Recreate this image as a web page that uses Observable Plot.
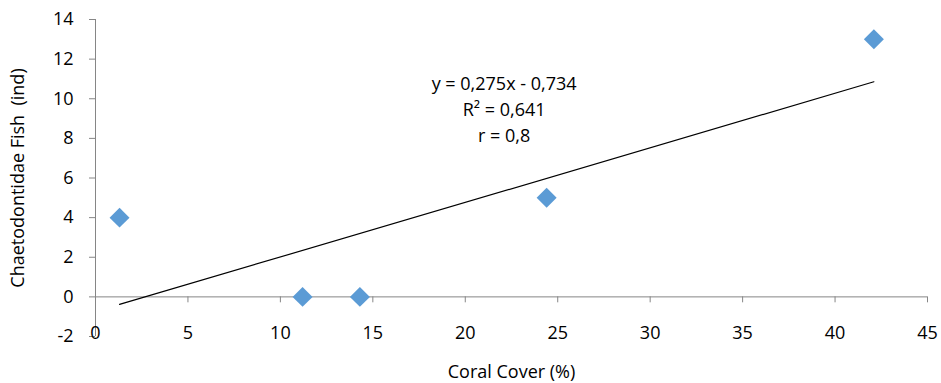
<!DOCTYPE html>
<html>
<head>
<meta charset="utf-8">
<script src="https://cdn.jsdelivr.net/npm/d3@7"></script>
<script src="https://cdn.jsdelivr.net/npm/@observablehq/plot@0.6"></script>
<style>
  html, body { margin: 0; padding: 0; background: #fff; }
  #chart svg { display: block; }
</style>
</head>
<body>
<div id="chart"></div>
<script>
const coralCover = [1.3, 11.2, 14.3, 24.4, 42.1];
const fishCount = [4, 0, 0, 5, 13];
const xTicks = [0, 5, 10, 15, 20, 25, 30, 35, 40, 45];
const yTicks = [-2, 0, 2, 4, 6, 8, 10, 12, 14];
const equationLines = ["y = 0,275x - 0,734", "R² = 0,641", "r = 0,8"];
const xLabel = "Coral Cover (%)";
const yLabel = "Chaetodontidae Fish  (ind)";

const points = coralCover.map((x, i) => ({x, y: fishCount[i]}));
const axisColor = "#868686";
const font = "'Open Sans', sans-serif";
const fs = 18;

const chart = Plot.plot({
  width: 941,
  height: 383,
  marginLeft: 95,
  marginRight: 14,
  marginTop: 19,
  marginBottom: 47,
  style: {fontFamily: font, fontSize: fs + "px", color: "#000", background: "#fff"},
  x: {domain: [0, 45], ticks: xTicks, axis: null},
  y: {domain: [-2, 14], ticks: yTicks, axis: null},
  marks: [
    Plot.ruleY([0], {x1: 0, x2: 45, stroke: axisColor, strokeWidth: 1}),
    Plot.ruleX(xTicks, {x: d => d, y1: 0, y2: -0.3, stroke: axisColor, strokeWidth: 1}),
    Plot.ruleX([0], {y1: -2, y2: 14, stroke: axisColor, strokeWidth: 1}),
    Plot.axisY({ticks: yTicks, tickFormat: d => String(d), tickSize: 6, tickPadding: 16, stroke: axisColor, fill: "#000", fontSize: fs, label: null}),
    Plot.text(xTicks, {x: d => d, y: -2, text: d => String(d), dy: -3, fill: "#000", fontSize: fs}),
    Plot.linearRegressionY(points, {x: "x", y: "y", ci: 0, stroke: "#000", strokeWidth: 1.2}),
    Plot.dot(points, {x: "x", y: "y", symbol: "diamond2", r: 9, fill: "#5b9bd5", stroke: "none"}),
    Plot.text([equationLines.join("\n")], {x: 22.1, y: 9.55, text: d => d, lineHeight: 1.44, fill: "#000", fontSize: fs, textAnchor: "middle"}),
    Plot.text([xLabel], {frameAnchor: "bottom", text: d => d, dy: 41, fill: "#000", fontSize: fs}),
    Plot.text([yLabel], {frameAnchor: "left", textAnchor: "middle", text: d => d, dx: -77, rotate: -90, fill: "#000", fontSize: fs})
  ]
});
document.getElementById("chart").appendChild(chart);
</script>
</body>
</html>
